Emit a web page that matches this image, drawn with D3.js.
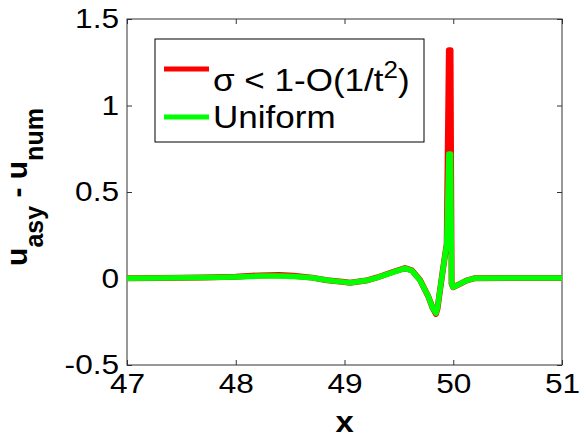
<!DOCTYPE html>
<html>
<head>
<meta charset="utf-8">
<script src="https://cdn.jsdelivr.net/npm/d3@7"></script>
<style>
  body { margin: 0; background: #fff; }
  svg text { font-family: "Liberation Sans", Arial, sans-serif; }
</style>
</head>
<body>
<div id="chart"></div>
<script>
// sample points along x, shared by both curves
var xValues = [47.0, 47.3, 47.7, 48.0, 48.22, 48.4, 48.53, 48.7, 48.84, 49.0, 49.05, 49.2, 49.3,
    49.45, 49.556, 49.62, 49.694, 49.768, 49.81, 49.841, 49.855, 49.9, 49.94, 49.96, 49.975,
    49.985, 49.998, 50.05, 50.12, 50.2, 50.5, 51.0];
var redValues = [0.002, 0.003, 0.006, 0.01, 0.018, 0.02, 0.016, 0.005, -0.01, -0.02, -0.024, -0.012, 0.006,
    0.039, 0.06, 0.047, -0.008, -0.1, -0.17, -0.205, -0.175, 0.03, 0.2, 1.32, 1.32,
    -0.03, -0.05, -0.035, -0.012, 0.002, 0.003, 0.003];
var greenValues = [0.002, 0.003, 0.006, 0.009, 0.014, 0.014, 0.012, 0.004, -0.01, -0.021, -0.025, -0.012, 0.005,
    0.037, 0.058, 0.045, -0.01, -0.1, -0.17, -0.2, -0.17, 0.03, 0.2, 0.72, 0.72,
    -0.03, -0.05, -0.035, -0.012, 0.002, 0.003, 0.003];
var xTicks = [47, 48, 49, 50, 51];
var yTicks = [-0.5, 0, 0.5, 1, 1.5];
var legendLabels = ["σ < 1-O(1/t", "Uniform"];

var w = 580, h = 439;
var margin = {top: 19, right: 18, bottom: 74, left: 127};
var stretch = "scale(1.13,1)";

var svg = d3.select("#chart").append("svg")
    .attr("width", w)
    .attr("height", h);

var x = d3.scaleLinear().domain([47, 51]).range([margin.left, w - margin.right]);
var y = d3.scaleLinear().domain([-0.5, 1.5]).range([h - margin.bottom, margin.top]);

var axisColor = "#333";
var plain = function(d){ return String(d); };

// axes with inward ticks
var xAxis = svg.append("g")
    .attr("transform", "translate(0," + (h - margin.bottom) + ")")
    .call(d3.axisBottom(x).tickValues(xTicks).tickFormat(plain).tickSizeInner(-5).tickSizeOuter(0));
var xTop = svg.append("g")
    .attr("transform", "translate(0," + margin.top + ")")
    .call(d3.axisTop(x).tickValues(xTicks).tickSizeInner(-5).tickSizeOuter(0).tickFormat(""));
var yAxis = svg.append("g")
    .attr("transform", "translate(" + margin.left + ",0)")
    .call(d3.axisLeft(y).tickValues(yTicks).tickFormat(plain).tickSizeInner(-5).tickSizeOuter(0).tickPadding(7));
var yRight = svg.append("g")
    .attr("transform", "translate(" + (w - margin.right) + ",0)")
    .call(d3.axisRight(y).tickValues(yTicks).tickSizeInner(-5).tickSizeOuter(0).tickFormat(""));

[xAxis, xTop, yAxis, yRight].forEach(function(g){
    g.select(".domain").remove();
    g.selectAll("line").attr("stroke", axisColor);
    g.selectAll("text")
        .attr("fill", "#000")
        .style("font-size", "28px")
        .attr("transform", stretch);
});
xAxis.selectAll("text").attr("dy", "0.71em").attr("y", 8);

// plot box
svg.append("rect")
    .attr("x", margin.left)
    .attr("y", margin.top)
    .attr("width", w - margin.left - margin.right)
    .attr("height", h - margin.top - margin.bottom)
    .attr("fill", "none")
    .attr("stroke", axisColor)
    .attr("stroke-width", 1);

// curves
var line = d3.line()
    .x(function(d){ return x(d[0]); })
    .y(function(d){ return y(d[1]); });

var redData = xValues.map(function(v, i){ return [v, redValues[i]]; });
var greenData = xValues.map(function(v, i){ return [v, greenValues[i]]; });

svg.append("path")
    .datum(redData)
    .attr("d", line)
    .attr("fill", "none")
    .attr("stroke", "#ff0000")
    .attr("stroke-width", 6)
    .attr("stroke-linejoin", "round");

svg.append("path")
    .datum(greenData)
    .attr("d", line)
    .attr("fill", "none")
    .attr("stroke", "#00ff00")
    .attr("stroke-width", 5.5)
    .attr("stroke-linejoin", "round");

// legend
var legend = svg.append("g");
legend.append("rect")
    .attr("x", 155).attr("y", 39)
    .attr("width", 269).attr("height", 103)
    .attr("fill", "#fff")
    .attr("stroke", "#000")
    .attr("stroke-width", 1);

var legendColors = ["#ff0000", "#00ff00"];
var legendLineY = [69, 117];
var legendTextY = [91, 128];

legendLabels.forEach(function(label, i){
    legend.append("line")
        .attr("x1", 164).attr("x2", 209)
        .attr("y1", legendLineY[i]).attr("y2", legendLineY[i])
        .attr("stroke", legendColors[i])
        .attr("stroke-width", 5);
    var t = legend.append("text")
        .attr("transform", "translate(213," + legendTextY[i] + ") " + stretch)
        .style("font-size", "31px")
        .text(label);
    if (i === 0) {
        t.append("tspan").attr("dy", -13).style("font-size", "23px").text("2");
        t.append("tspan").attr("dy", 13).text(")");
    }
});

// axis labels
svg.append("text")
    .attr("transform", "translate(" + (margin.left + w - margin.right) / 2 + ",432) " + stretch)
    .attr("text-anchor", "middle")
    .style("font-size", "29px")
    .style("font-weight", "bold")
    .text("x");

var yLabel = svg.append("text")
    .attr("transform", "translate(27,187) rotate(-90)")
    .attr("text-anchor", "middle")
    .style("font-weight", "bold")
    .style("font-size", "30px");
yLabel.append("tspan").text("u");
yLabel.append("tspan").attr("dy", 16).style("font-size", "25px").text("asy");
yLabel.append("tspan").attr("dy", -16).text(" - u");
yLabel.append("tspan").attr("dy", 16).style("font-size", "25px").text("num");
</script>
</body>
</html>
